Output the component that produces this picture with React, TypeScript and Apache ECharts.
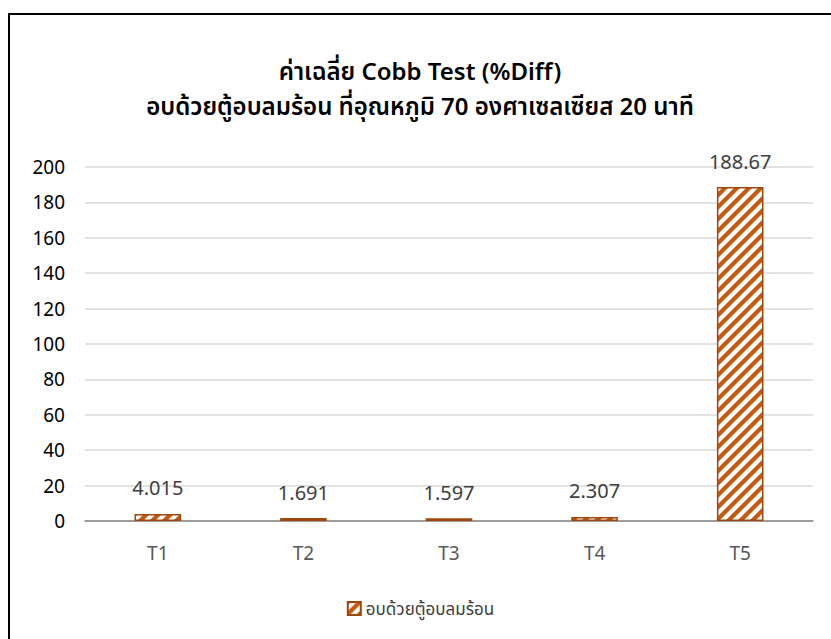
import React, { useEffect, useRef } from "react";
import * as echarts from "echarts";

const titleLine1 = "ค่าเฉลี่ย Cobb Test (%Diff)";
const titleLine2 = "อบด้วยตู้อบลมร้อน ที่อุณหภูมิ 70 องศาเซลเซียส 20 นาที";
const seriesName = "อบด้วยตู้อบลมร้อน";
const categories = ["T1", "T2", "T3", "T4", "T5"];
const values = [4.015, 1.691, 1.597, 2.307, 188.67];
const yMin = 0;
const yMax = 200;
const yStep = 20;

const FONT = "'Noto Sans', 'Noto Sans Thai', 'Open Sans', sans-serif";

// Wide upward diagonal hatch: orange stripes on white.
function makeHatch(): string {
  const size = 12;
  const c = document.createElement("canvas");
  c.width = size;
  c.height = size;
  const ctx = c.getContext("2d")!;
  ctx.fillStyle = "#ffffff";
  ctx.fillRect(0, 0, size, size);
  ctx.strokeStyle = "#C55A11";
  ctx.lineWidth = 4.2;
  for (const k of [-size, 0, size]) {
    ctx.beginPath();
    ctx.moveTo(k - 2, size + 2);
    ctx.lineTo(k + size + 2, -2);
    ctx.stroke();
  }
  return c.toDataURL();
}

export default function App() {
  const ref = useRef<HTMLDivElement>(null);

  useEffect(() => {
    if (!ref.current) return;
    const chart = echarts.init(ref.current, null, { renderer: "svg" });
    const hatch = { image: makeHatch(), repeat: "repeat" };

    const titleStyle = { fontFamily: FONT, fontSize: 24, fontWeight: 600, color: "#000000" };

    chart.setOption({
      animation: false,
      backgroundColor: "#ffffff",
      title: [
        { text: titleLine1, left: 405, top: 38, textAlign: "center", textStyle: titleStyle },
        { text: titleLine2, left: 405, top: 73, textAlign: "center", textStyle: titleStyle },
      ],
      legend: {
        data: [seriesName],
        left: "center",
        top: 580,
        itemWidth: 13,
        itemHeight: 13,
        icon: "rect",
        textStyle: { fontFamily: FONT, fontSize: 17, color: "#404040" },
      },
      grid: { left: 75, right: 18, top: 152, bottom: 118, containLabel: false },
      xAxis: {
        type: "category",
        data: categories,
        axisLine: { show: true, lineStyle: { color: "#868686", width: 1.5 } },
        axisTick: { show: false },
        axisLabel: { fontFamily: FONT, fontSize: 19, color: "#595959", margin: 22 },
      },
      yAxis: {
        type: "value",
        min: yMin,
        max: yMax,
        interval: yStep,
        axisLine: { show: false },
        axisTick: { show: false },
        axisLabel: { fontFamily: FONT, fontSize: 19, color: "#000000", margin: 20 },
        splitLine: { lineStyle: { color: "#d9d9d9", width: 1.5 } },
      },
      series: [
        {
          name: seriesName,
          type: "bar",
          data: values,
          barWidth: "32%",
          itemStyle: { color: hatch, borderColor: "#9E480E", borderWidth: 1.5 },
          label: {
            show: true,
            position: "top",
            distance: 16,
            fontFamily: FONT,
            fontSize: 20,
            color: "#404040",
            formatter: (p: any) => String(p.value),
          },
        },
      ],
    });

    return () => chart.dispose();
  }, []);

  return (
    <div
      style={{
        position: "absolute",
        left: 8,
        top: 13,
        width: 823,
        height: 626,
        borderLeft: "2px solid #000",
        borderTop: "2px solid #000",
        background: "#fff",
      }}
    >
      <div ref={ref} style={{ width: 821, height: 624 }} />
    </div>
  );
}
